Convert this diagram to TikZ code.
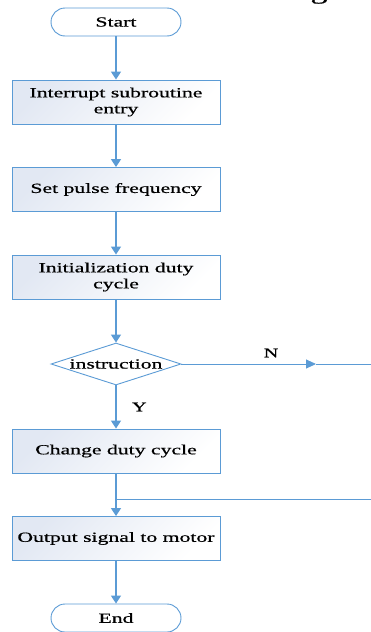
\documentclass[tikz,border=0pt]{standalone}
\usepackage{fontspec}
\setmainfont{Liberation Serif}[FakeStretch=1.55,FakeBold=0.6]
\usetikzlibrary{arrows.meta,shapes.geometric}
\definecolor{lineblue}{RGB}{91,155,213}
\definecolor{gradc}{RGB}{226,232,243}
\tikzset{
  procbox/.style={draw=lineblue, line width=0.9pt, top color=gradc, bottom color=white, shading angle=45,
    minimum width=208pt, minimum height=44pt, inner sep=0pt, align=center, font=\fontsize{14}{16}\selectfont, text=black},
  termbox/.style={draw=lineblue, line width=0.9pt, fill=white, rectangle, rounded corners=14pt,
    minimum width=130pt, minimum height=28pt, inner sep=0pt, font=\fontsize{14}{16}\selectfont},
  decbox/.style={draw=lineblue, line width=0.9pt, fill=white, diamond, aspect=3.1,
    minimum width=130pt, minimum height=42pt, inner sep=0pt, font=\fontsize{14}{16}\selectfont},
  flow/.style={draw=lineblue, line width=1.4pt, -{Triangle[width=10pt,length=8pt]}},
  thin/.style={draw=lineblue, line width=0.9pt},
  lbl/.style={font=\fontsize{13}{15}\selectfont}
}
\begin{document}
\begin{tikzpicture}[x=1pt,y=-1pt]
\useasboundingbox (0,0) rectangle (370,632);
\begin{scope}
\clip (0,0) rectangle (370,632);
\node[anchor=base, font=\fontsize{22}{24}\selectfont] (frag) at (319,-1) {g};
\end{scope}
\node[termbox] (start) at (116,22) {Start};
\node[procbox] (b1) at (116,102) {Interrupt subroutine\\entry};
\node[procbox] (b2) at (116,189.5) {Set pulse frequency};
\node[procbox] (b3) at (116,277) {Initialization duty\\cycle};
\node[decbox] (dec) at (116,364) {instruction};
\node[procbox] (b4) at (116,451) {Change duty cycle};
\node[procbox] (b5) at (116,538.5) {Output signal to motor};
\node[termbox] (end) at (116,618) {End};
\coordinate (narr) at (316,364);
\coordinate (nend) at (372,364);
\coordinate (jn) at (116,499);
\coordinate (jend) at (372,499);
\draw[flow] (start) -- (b1);
\draw[flow] (b1) -- (b2);
\draw[flow] (b2) -- (b3);
\draw[flow] (b3) -- (dec);
\draw[flow] (dec) -- node[lbl, right=12pt, pos=0.5] (ylab) {Y} (b4);
\draw[thin, -{Triangle[width=9pt,length=10pt]}] (dec.east) -- (narr);
\draw[thin] (narr) -- (nend);
\node[lbl] (nlab) at (271,353) {N};
\draw[flow] (b4) -- (b5);
\draw[thin] (jn) -- (jend);
\draw[flow] (b5) -- (end);
\end{tikzpicture}
\end{document}
